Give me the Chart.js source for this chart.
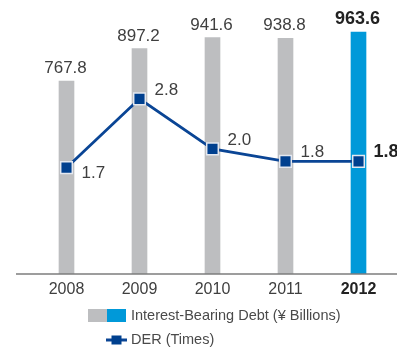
<!DOCTYPE html>
<html>
<head>
<meta charset="utf-8">
<script src="https://cdn.jsdelivr.net/npm/chart.js@4/dist/chart.umd.min.js"></script>
<style>
  html, body { margin: 0; padding: 0; background: #ffffff; }
  #wrap { position: relative; width: 397px; height: 348px; }
</style>
</head>
<body>
<div id="wrap"><canvas id="chart"></canvas></div>
<script>
// Fiscal years
const years = ['2008', '2009', '2010', '2011', '2012'];
// Interest-bearing debt, ¥ billions
const debt = [767.8, 897.2, 941.6, 938.8, 963.6];
// Debt-to-equity ratio, times
const der = [1.7, 2.8, 2.0, 1.8, 1.8];

const debtLegend = 'Interest-Bearing Debt (¥ Billions)';
const derLegend = 'DER (Times)';

const FONT = '"Liberation Sans", Arial, Helvetica, sans-serif';
const GREY = '#bdbec0';
const BLUE = '#0099d9';
const NAVY = '#0a4595';
const MARK = '#00408f';
const latest = years.length - 1;

// Value labels, baseline and two-row legend
const annotate = {
  id: 'annotate',
  afterDatasetsDraw(chart) {
    const ctx = chart.ctx;
    const yScale = chart.scales.y;
    const base = yScale.getPixelForValue(0);

    // baseline across the plot
    ctx.save();
    ctx.strokeStyle = '#7c7c7c';
    ctx.lineWidth = 1.5;
    ctx.beginPath();
    ctx.moveTo(16, base);
    ctx.lineTo(chart.width, base);
    ctx.stroke();
    ctx.restore();

    // debt labels above each bar
    const bars = chart.getDatasetMeta(0).data;
    bars.forEach((bar, i) => {
      ctx.save();
      const bold = i === latest;
      ctx.font = (bold ? 'bold 18px ' : '17px ') + FONT;
      ctx.fillStyle = bold ? '#222222' : '#3f3f3f';
      ctx.textAlign = 'center';
      ctx.textBaseline = 'alphabetic';
      ctx.fillText(debt[i].toFixed(1), bar.x - 1, bar.y - 8);
      ctx.restore();
    });

    // DER labels to the right of each marker; below when the line rises next
    const pts = chart.getDatasetMeta(1).data;
    pts.forEach((p, i) => {
      ctx.save();
      const bold = i === latest;
      ctx.font = (bold ? 'bold 18px ' : '17px ') + FONT;
      ctx.fillStyle = bold ? '#222222' : '#3f3f3f';
      ctx.textAlign = 'left';
      ctx.textBaseline = 'alphabetic';
      const rising = i < der.length - 1 && der[i + 1] > der[i];
      const y = rising ? p.y + 10 : p.y - 4;
      ctx.fillText(der[i].toFixed(1), p.x + 15, y);
      ctx.restore();
    });

    // legend
    ctx.save();
    ctx.fillStyle = GREY;
    ctx.fillRect(88, 309, 19, 13);
    ctx.fillStyle = BLUE;
    ctx.fillRect(107, 309, 19, 13);
    ctx.font = '14.5px ' + FONT;
    ctx.fillStyle = '#4a4a4a';
    ctx.textBaseline = 'middle';
    ctx.textAlign = 'left';
    ctx.fillText(debtLegend, 131, 316);

    ctx.strokeStyle = NAVY;
    ctx.lineWidth = 3;
    ctx.beginPath();
    ctx.moveTo(106, 340);
    ctx.lineTo(127, 340);
    ctx.stroke();
    ctx.fillStyle = MARK;
    ctx.fillRect(111.5, 335.5, 10, 9);
    ctx.fillStyle = '#4a4a4a';
    ctx.fillText(derLegend, 131, 340);
    ctx.restore();
  }
};

new Chart(document.getElementById('chart'), {
  data: {
    labels: years,
    datasets: [
      {
        type: 'bar',
        label: debtLegend,
        data: debt,
        yAxisID: 'y',
        order: 2,
        barThickness: 15,
        backgroundColor: years.map((_, i) => i === latest ? BLUE : GREY),
        borderWidth: 0
      },
      {
        type: 'line',
        label: derLegend,
        data: der,
        yAxisID: 'y2',
        order: 1,
        borderColor: NAVY,
        borderWidth: 2.8,
        tension: 0,
        pointStyle: 'rect',
        pointRadius: 8.2,
        pointBackgroundColor: MARK,
        pointBorderColor: '#e4e8f0',
        pointBorderWidth: 1.5
      }
    ]
  },
  options: {
    responsive: true,
    maintainAspectRatio: false,
    animation: false,
    layout: { autoPadding: false, padding: { left: 30, right: 2, top: 0, bottom: 0 } },
    plugins: {
      legend: { display: false },
      tooltip: { enabled: false }
    },
    scales: {
      x: {
        offset: true,
        grid: { display: false, drawTicks: false },
        border: { display: false },
        afterFit(scale) {
          scale.height = 74;
          scale.paddingLeft = 0;
          scale.paddingRight = 0;
        },
        ticks: {
          padding: 6,
          color: (c) => c.index === latest ? '#222222' : '#3f3f3f',
          font: (c) => ({ family: FONT, size: 16, weight: c.index === latest ? 'bold' : 'normal' })
        }
      },
      y: {
        display: false,
        min: 0,
        max: 1091
      },
      y2: {
        display: false,
        min: 0,
        max: 4.38
      }
    }
  },
  plugins: [annotate]
});
</script>
</body>
</html>
